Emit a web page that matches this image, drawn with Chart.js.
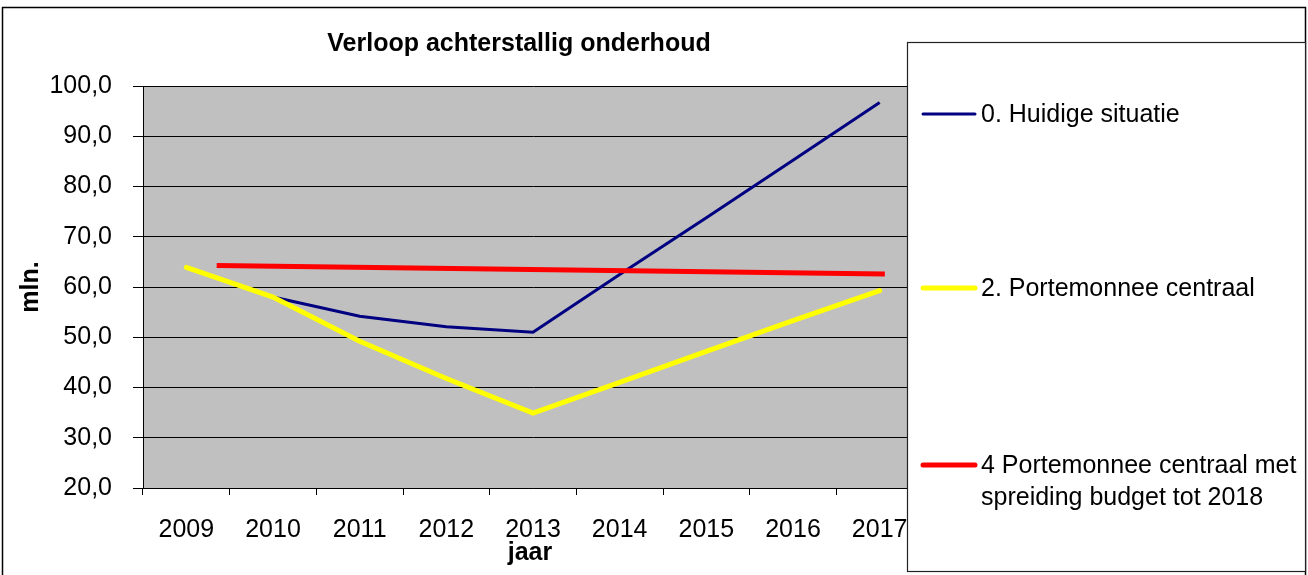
<!DOCTYPE html>
<html lang="nl">
<head>
<meta charset="UTF-8">
<title>Verloop achterstallig onderhoud</title>
<style>
  body { margin: 0; background: #fff; }
  canvas { display: block; }
</style>
</head>
<body>
<canvas id="chart" width="1308" height="575"></canvas>
<script src="https://cdn.jsdelivr.net/npm/chart.js@4/dist/chart.umd.min.js"></script>
<script>
// data
const years = ['2009', '2010', '2011', '2012', '2013', '2014', '2015', '2016', '2017'];
const huidige = [63.9, 58.0, 54.2, 52.1, 51.0, 62.5, 73.8, 85.2, 96.7];
const portemonnee = [63.9, 58.0, 49.2, 41.8, 34.9, 41.0, 47.2, 53.3, 59.3];
// the red series sits on its own (hidden) x axis in the original
const spreidingX = [2009.35, 2017.06];
const spreidingY = [64.3, 62.6];

const yTicks = [20, 30, 40, 50, 60, 70, 80, 90, 100];

const legendLabels = [
  ['0. Huidige situatie'],
  ['2. Portemonnee centraal'],
  ['4 Portemonnee centraal met', 'spreiding budget tot 2018']
];

const FONT = '"Liberation Sans", Arial, sans-serif';

const decor = {
  id: 'decor',
  beforeDraw(chart) {
    const { ctx, chartArea: a } = chart;
    ctx.save();
    ctx.fillStyle = '#c0c0c0';
    ctx.fillRect(a.left, a.top, a.right - a.left, a.bottom - a.top);
    ctx.restore();
  },
  afterDraw(chart) {
    const ctx = chart.ctx;
    ctx.save();
    ctx.fillStyle = '#000';
    ctx.textAlign = 'center';
    ctx.textBaseline = 'middle';

    ctx.font = 'bold 25px ' + FONT;
    ctx.fillText('Verloop achterstallig onderhoud', 519, 44);
    ctx.fillText('jaar', 530, 553);

    ctx.save();
    ctx.translate(31, 287);
    ctx.rotate(-Math.PI / 2);
    ctx.fillText('mln.', 0, 0);
    ctx.restore();

    // outer frame
    ctx.strokeStyle = '#000';
    ctx.lineWidth = 1.5;
    ctx.strokeRect(2.5, 7.5, 1303, 575);

    // legend box
    ctx.fillStyle = '#fff';
    ctx.fillRect(907, 42, 399, 530);
    ctx.lineWidth = 1.2;
    ctx.strokeStyle = '#222';
    ctx.strokeRect(907.5, 42.5, 398, 529);

    const rows = [114, 288, 465];
    ctx.font = '25px ' + FONT;
    ctx.textAlign = 'left';
    chart.data.datasets.forEach((ds, i) => {
      const y = rows[i];
      ctx.strokeStyle = ds.borderColor;
      ctx.lineWidth = i === 0 ? 3 : 5;
      ctx.lineCap = 'round';
      ctx.beginPath();
      ctx.moveTo(923, y);
      ctx.lineTo(975, y);
      ctx.stroke();
      ctx.fillStyle = '#000';
      legendLabels[i].forEach((line, j) => {
        ctx.fillText(line, 981, y + 1 + j * 32);
      });
    });
    ctx.restore();
  }
};

new Chart(document.getElementById('chart'), {
  type: 'line',
  data: {
    labels: years,
    datasets: [
      {
        label: legendLabels[0].join(' '),
        data: huidige,
        borderColor: '#000080',
        borderWidth: 3,
        pointRadius: 0,
        tension: 0,
        order: 3
      },
      {
        label: legendLabels[1].join(' '),
        data: portemonnee,
        borderColor: '#ffff00',
        borderWidth: 5,
        borderCapStyle: 'round',
        pointRadius: 0,
        tension: 0,
        order: 2
      },
      {
        label: legendLabels[2].join(' '),
        data: spreidingX.map((x, i) => ({ x: x, y: spreidingY[i] })),
        xAxisID: 'x2',
        borderColor: '#ff0000',
        borderWidth: 5,
        pointRadius: 0,
        tension: 0,
        order: 1
      }
    ]
  },
  options: {
    responsive: false,
    animation: false,
    layout: { padding: { left: 0, top: 86, right: 385, bottom: 0 } },
    plugins: {
      legend: { display: false },
      title: { display: false },
      tooltip: { enabled: false }
    },
    scales: {
      x: {
        type: 'category',
        offset: true,
        grid: {
          offset: true,
          drawOnChartArea: false,
          drawTicks: true,
          tickLength: 7,
          color: '#000'
        },
        border: { color: '#000', width: 1 },
        ticks: {
          color: '#000',
          font: { family: FONT, size: 25 },
          padding: 20,
          maxRotation: 0,
          autoSkip: false
        },
        afterFit(scale) { scale.height = 87; }
      },
      x2: {
        type: 'linear',
        display: false,
        min: 2008.5,
        max: 2017.5
      },
      y: {
        min: 20,
        max: 100,
        afterBuildTicks(scale) {
          scale.ticks = yTicks.map(v => ({ value: v }));
        },
        grid: {
          color: '#000',
          lineWidth: 1,
          tickLength: 10
        },
        border: { color: '#000', width: 1 },
        ticks: {
          color: '#000',
          font: { family: FONT, size: 25 },
          padding: 21,
          callback: v => v.toFixed(1).replace('.', ',')
        },
        afterFit(scale) { scale.width = 143; }
      }
    }
  },
  plugins: [decor]
});
</script>
</body>
</html>
